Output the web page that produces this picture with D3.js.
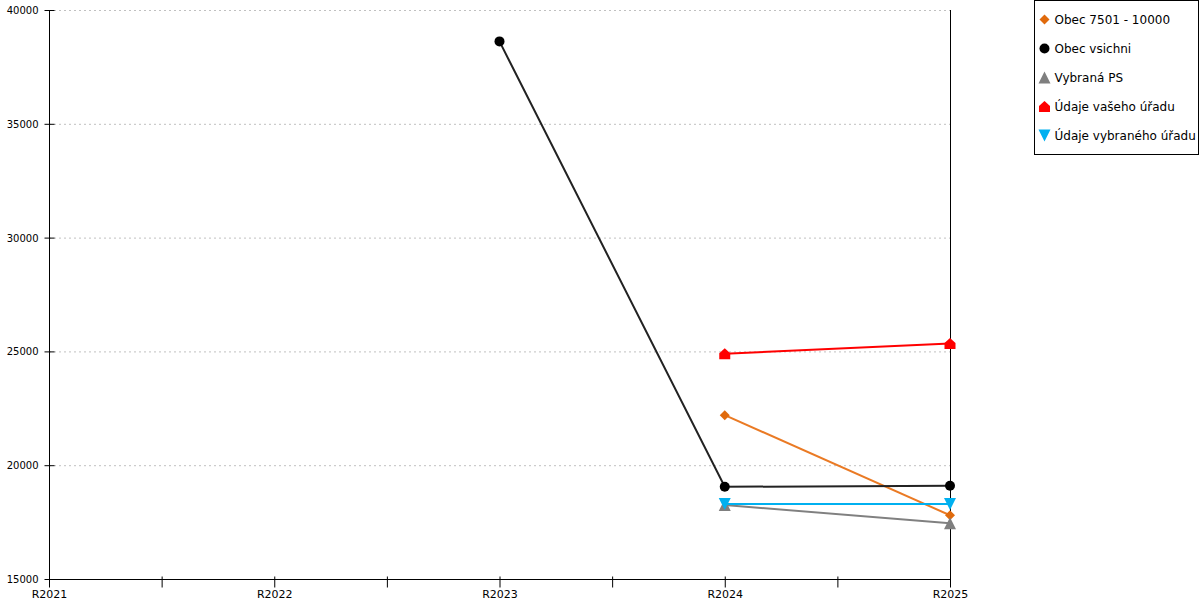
<!DOCTYPE html>
<html>
<head>
<meta charset="utf-8">
<script src="https://cdn.jsdelivr.net/npm/d3@7"></script>
<style>
  body { margin: 0; background: #fff; }
  svg { display: block; font-family: "DejaVu Sans", sans-serif; }
</style>
</head>
<body>
<svg id="chart" width="1200" height="600"></svg>
<script>
"use strict";
(function () {
  // Data
  const years = ["R2021", "R2022", "R2023", "R2024", "R2025"];
  const yTicks = [15000, 20000, 25000, 30000, 35000, 40000];
  const obec7501 = [null, null, null, 22200, 17800];
  const obecVsichni = [null, null, 38620, 19050, 19100];
  const vybranaPS = [null, null, null, 18250, 17450];
  const udajeVaseho = [null, null, null, 24900, 25350];
  const udajeVybraneho = [null, null, null, 18300, 18300];

  const series = [
    { name: "Obec 7501 - 10000", values: obec7501, line: "#ea7a24", fill: "#e06a0c", shape: "diamond" },
    { name: "Obec vsichni", values: obecVsichni, line: "#222222", fill: "#000000", shape: "circle" },
    { name: "Vybraná PS", values: vybranaPS, line: "#808080", fill: "#7f7f7f", shape: "triangle" },
    { name: "Údaje vašeho úřadu", values: udajeVaseho, line: "#ff0000", fill: "#ff0000", shape: "house" },
    { name: "Údaje vybraného úřadu", values: udajeVybraneho, line: "#00b0f0", fill: "#00b0f0", shape: "triangleDown" },
  ];

  const svg = d3.select("#chart");
  const left = 49, right = 950, top = 10, bottom = 579;

  const x = d3.scalePoint().domain(years).range([left, right]).padding(0);
  const y = d3.scaleLinear().domain([15000, 40000]).range([bottom, top]);

  // Grid
  svg.append("g")
    .selectAll("line")
    .data(yTicks.slice(1))
    .join("line")
    .attr("x1", left).attr("x2", right)
    .attr("y1", (d) => y(d) + 0.5).attr("y2", (d) => y(d) + 0.5)
    .attr("stroke", "#c0c0c0")
    .attr("stroke-dasharray", "2,3");

  // Right border line
  svg.append("line")
    .attr("x1", right + 0.5).attr("x2", right + 0.5)
    .attr("y1", top).attr("y2", bottom)
    .attr("stroke", "#000");

  // Y axis
  const yAxis = svg.append("g").attr("transform", `translate(${left + 0.5},0.5)`);
  yAxis.append("line").attr("y1", top).attr("y2", bottom).attr("stroke", "#000");
  yAxis.selectAll(".tick")
    .data(yTicks)
    .join("line")
    .attr("x1", -5).attr("x2", 5)
    .attr("y1", (d) => y(d)).attr("y2", (d) => y(d))
    .attr("stroke", "#000");
  yAxis.selectAll("text")
    .data(yTicks)
    .join("text")
    .attr("x", -11)
    .attr("y", (d) => y(d))
    .attr("dy", "0.35em")
    .attr("text-anchor", "end")
    .attr("font-size", 10)
    .attr("fill", "#000")
    .text((d) => d);

  // X axis
  const step = x.step();
  const minor = years.slice(1).map((d) => x(d) - step / 2);
  const xAxis = svg.append("g").attr("transform", `translate(0.5,${bottom + 0.5})`);
  xAxis.append("line").attr("x1", left).attr("x2", right).attr("stroke", "#000");
  xAxis.selectAll(".tick")
    .data(years.map((d) => x(d)).concat(minor))
    .join("line")
    .attr("x1", (d) => d).attr("x2", (d) => d)
    .attr("y1", -3).attr("y2", 8)
    .attr("stroke", "#000");
  xAxis.selectAll("text")
    .data(years)
    .join("text")
    .attr("x", (d) => x(d))
    .attr("y", 18)
    .attr("text-anchor", "middle")
    .attr("font-size", 11)
    .attr("fill", "#000")
    .text((d) => d);

  // Marker shapes
  function marker(shape, s) {
    switch (shape) {
      case "diamond":
        return `M0,${-s}L${s},0L0,${s}L${-s},0Z`;
      case "circle":
        return d3.symbol(d3.symbolCircle, Math.PI * s * s)();
      case "triangle":
        return `M0,${-s}L${s},${s}L${-s},${s}Z`;
      case "triangleDown":
        return `M${-s},${-s}L${s},${-s}L0,${s}Z`;
      case "house":
        return `M0,${-s}L${s},${-s * 0.1}L${s},${s}L${-s},${s}L${-s},${-s * 0.1}Z`;
    }
  }
  const markerSize = { diamond: 5, circle: 5, triangle: 6, triangleDown: 6, house: 5.5 };

  const line = d3.line()
    .defined((d) => d != null)
    .x((d, i) => x(years[i]))
    .y((d) => y(d));

  const gSeries = svg.append("g")
    .selectAll("g")
    .data(series)
    .join("g");
  gSeries.append("path")
    .attr("d", (s) => line(s.values))
    .attr("fill", "none")
    .attr("stroke", (s) => s.line)
    .attr("stroke-width", 2);
  gSeries.selectAll(".mark")
    .data((s) => s.values.map((v, i) => ({ v, i, s })).filter((d) => d.v != null))
    .join("path")
    .attr("class", "mark")
    .attr("transform", (d) => `translate(${x(years[d.i])},${y(d.v)})`)
    .attr("d", (d) => marker(d.s.shape, markerSize[d.s.shape]))
    .attr("fill", (d) => d.s.fill);

  // Legend
  const legend = svg.append("g").attr("transform", "translate(1034.5,0.5)");
  legend.append("rect")
    .attr("width", 164).attr("height", 154)
    .attr("fill", "#fff").attr("stroke", "#000");
  const item = legend.selectAll(".item")
    .data(series)
    .join("g")
    .attr("class", "item")
    .attr("transform", (d, i) => `translate(10,${19 + i * 29})`);
  item.append("path")
    .attr("d", (d) => marker(d.shape, markerSize[d.shape]))
    .attr("fill", (d) => d.fill);
  item.append("text")
    .attr("x", 10)
    .attr("dy", "0.35em")
    .attr("font-size", 12)
    .attr("fill", "#000")
    .text((d) => d.name);
})();
</script>
</body>
</html>
